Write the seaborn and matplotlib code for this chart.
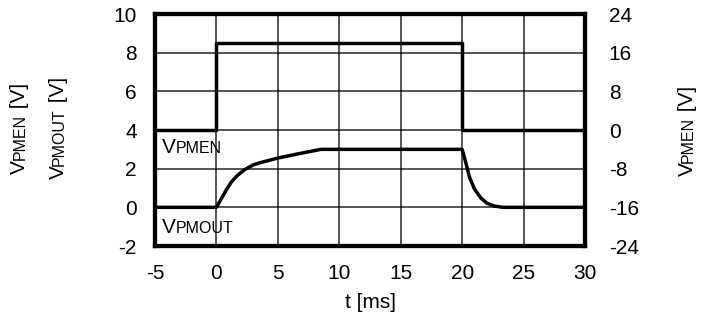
import matplotlib
matplotlib.use("Agg")
import matplotlib.pyplot as plt
from matplotlib.transforms import offset_copy
import seaborn as sns
import pandas as pd

# data
t_pmout = [-5, 0, 0.4, 0.8, 1.2, 1.7, 2.3, 3.0, 3.5, 5.0, 6.5, 8.5, 20.0, 20.3, 20.6, 21.0, 21.5, 22.0, 22.6, 23.3, 30]
v_pmout = [0, 0, 0.45, 0.9, 1.3, 1.65, 1.95, 2.2, 2.3, 2.55, 2.75, 3.0, 3.0, 2.3, 1.55, 0.95, 0.5, 0.22, 0.07, 0.0, 0]
t_pmen = [-5, 0, 0, 20, 20, 30]
v_pmen = [0, 0, 18, 18, 0, 0]

x_ticks = [-5, 0, 5, 10, 15, 20, 25, 30]
left_ticks = [-2, 0, 2, 4, 6, 8, 10]
right_ticks = [-24, -16, -8, 0, 8, 16, 24]

sns.set_style("white")
plt.rcParams["font.family"] = ["Liberation Sans", "DejaVu Sans"]
plt.rcParams["axes.unicode_minus"] = False
plt.rcParams["text.color"] = "black"
plt.rcParams["xtick.color"] = "black"
plt.rcParams["ytick.color"] = "black"
plt.rcParams["axes.labelcolor"] = "black"

BIG, SMALL = 15, 11.5

fig = plt.figure(figsize=(7.12, 3.24), dpi=100)
ax = fig.add_axes([0.2177, 0.2407, 0.604, 0.716])
ax2 = ax.twinx()

df_out = pd.DataFrame({"t": t_pmout, "v": v_pmout})
df_en = pd.DataFrame({"t": t_pmen, "v": v_pmen})

sns.lineplot(data=df_out, x="t", y="v", ax=ax, color="black", linewidth=2.5,
             estimator=None, sort=False, zorder=5)
sns.lineplot(data=df_en, x="t", y="v", ax=ax2, color="black", linewidth=2.5,
             estimator=None, sort=False, zorder=5)

ax.set_xlim(-5, 30)
ax.set_ylim(-2, 10)
ax2.set_ylim(-24, 24)
ax.set_xticks(x_ticks)
ax.set_yticks(left_ticks)
ax2.set_yticks(right_ticks)
ax.grid(True, color="black", linewidth=1.1, alpha=0.85)
ax.set_axisbelow(True)

ax.tick_params(axis="x", length=0, labelsize=BIG, pad=13)
ax.tick_params(axis="y", length=0, labelsize=BIG, pad=13)
ax2.tick_params(axis="y", length=0, labelsize=BIG, pad=17)
for a in (ax, ax2):
    for s in a.spines.values():
        s.set_linewidth(3)
        s.set_color("black")

ax.set_xlabel("t [ms]", fontsize=BIG, labelpad=7)
ax.set_ylabel("")
ax2.set_ylabel("")

renderer = fig.canvas.get_renderer()


def rich_text(x, y, parts, transform, vertical=False, center=False):
    # pieces of text of different sizes sharing one baseline
    rot = 90 if vertical else 0
    texts = []
    pos = 0.0
    for s, size in parts:
        if vertical:
            tr = offset_copy(transform, fig=fig, x=0, y=pos, units="dots")
        else:
            tr = offset_copy(transform, fig=fig, x=pos, y=0, units="dots")
        t = fig.text(x, y, s, fontsize=size, rotation=rot, rotation_mode="anchor",
                     ha="left", va="baseline", transform=tr, zorder=6)
        bb = t.get_window_extent(renderer)
        pos += bb.height if vertical else bb.width
        texts.append(t)
    if center:
        shift = -pos / 2
        for t in texts:
            base = t.get_transform()
            if vertical:
                t.set_transform(offset_copy(base, fig=fig, x=0, y=shift, units="dots"))
            else:
                t.set_transform(offset_copy(base, fig=fig, x=shift, y=0, units="dots"))
    return texts


fx = lambda px: px / 712
fy = lambda py: 1 - py / 324

rich_text(fx(25), fy(128), [("V", BIG), ("PMEN", SMALL), (" [V]", BIG)],
          fig.transFigure, vertical=True, center=True)
rich_text(fx(64), fy(128), [("V", BIG), ("PMOUT", SMALL), (" [V]", BIG)],
          fig.transFigure, vertical=True, center=True)
rich_text(fx(693), fy(131), [("V", BIG), ("PMEN", SMALL), (" [V]", BIG)],
          fig.transFigure, vertical=True, center=True)

rich_text(-4.4, 2.8, [("V", BIG), ("PMEN", SMALL)], ax.transData)
rich_text(-4.4, -1.33, [("V", BIG), ("PMOUT", SMALL)], ax.transData)

fig.savefig("out.png", dpi=100)
